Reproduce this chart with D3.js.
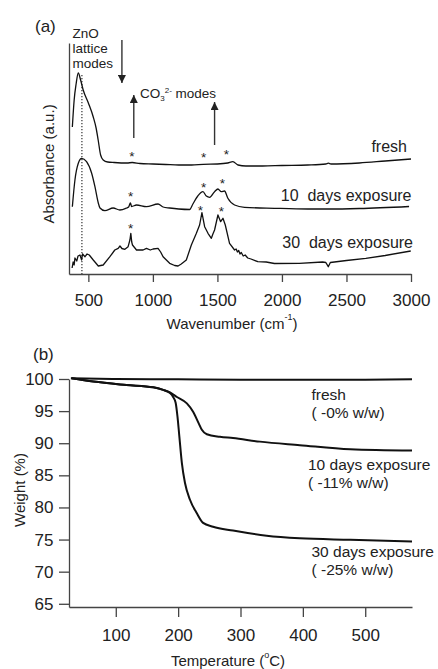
<!DOCTYPE html>
<html>
<head>
<meta charset="utf-8">
<script src="https://cdn.jsdelivr.net/npm/d3@7"></script>
<style>
  body { margin: 0; background: #fff; }
  svg text { font-family: "Liberation Sans", Arial, Helvetica, sans-serif; fill: #222; }
</style>
</head>
<body>
<svg id="chart" width="438" height="669"></svg>
<script>
// ---- (a) IR spectra: [wavenumber, absorbance (a.u., offset)] ----
const irFresh = [[376,1.47],[390,1.74],[405,1.90],[422,2.01],[440,1.94],[460,1.84],[500,1.71],[538,1.57],[560,1.46],[576,1.34],[595,1.19],[615,1.14],[650,1.12],[700,1.115],[800,1.11],[840,1.115],[900,1.105],[1000,1.10],[1100,1.095],[1200,1.09],[1300,1.09],[1390,1.097],[1500,1.10],[1580,1.11],[1620,1.123],[1660,1.09],[1720,1.08],[1850,1.08],[2000,1.085],[2200,1.09],[2340,1.10],[2360,1.108],[2380,1.10],[2600,1.11],[2800,1.13],[3000,1.15]];
const ir10days = [[376,0.673],[396,0.94],[422,1.107],[448,1.157],[486,1.123],[525,1.01],[551,0.873],[577,0.71],[590,0.66],[628,0.633],[692,0.66],[744,0.64],[796,0.66],[812,0.67],[826,0.71],[835,0.675],[873,0.69],[950,0.673],[1040,0.70],[1079,0.67],[1130,0.66],[1200,0.65],[1285,0.645],[1310,0.70],[1348,0.78],[1388,0.823],[1414,0.78],[1440,0.767],[1478,0.823],[1504,0.85],[1530,0.823],[1555,0.83],[1581,0.757],[1633,0.69],[1710,0.667],[1942,0.657],[2200,0.65],[2367,0.65],[2600,0.655],[2985,0.675]];
const ir30days = [[374,0.06],[382,0.12],[390,0.09],[396,0.16],[410,0.13],[420,0.18],[435,0.19],[448,0.14],[455,0.20],[474,0.173],[490,0.20],[507,0.19],[538,0.14],[577,0.08],[615,0.09],[667,0.173],[705,0.24],[731,0.257],[745,0.28],[760,0.255],[783,0.247],[808,0.273],[822,0.34],[829,0.407],[836,0.32],[842,0.29],[873,0.24],[924,0.24],[950,0.257],[980,0.24],[1001,0.25],[1040,0.257],[1060,0.22],[1079,0.173],[1130,0.107],[1169,0.085],[1195,0.08],[1220,0.10],[1259,0.14],[1298,0.29],[1337,0.407],[1362,0.49],[1380,0.613],[1401,0.473],[1427,0.407],[1453,0.357],[1465,0.40],[1478,0.44],[1504,0.59],[1525,0.523],[1543,0.557],[1561,0.49],[1594,0.307],[1633,0.24],[1645,0.25],[1655,0.22],[1665,0.235],[1675,0.20],[1685,0.215],[1700,0.18],[1715,0.19],[1735,0.16],[1760,0.15],[1813,0.123],[1878,0.12],[1942,0.105],[2135,0.107],[2315,0.12],[2340,0.115],[2359,0.073],[2375,0.115],[2500,0.135],[2650,0.157],[2800,0.185],[2998,0.23]];
const irTicks = [500, 1000, 1500, 2000, 2500, 3000];

// asterisks: [wavenumber, absorbance]
const starsFresh = [[838,1.21],[1393,1.20],[1569,1.23]];
const stars10days = [[827,0.81],[1393,0.90],[1538,0.94]];
const stars30days = [[827,0.49],[1368,0.67],[1530,0.66]];

// ---- (b) TGA: [temperature, weight %] ----
const tgaFresh = [[28,100.1],[100,100],[200,99.95],[300,99.9],[400,99.88],[500,99.9],[575,99.95]];
const tga10days = [[29,100.1],[64,99.6],[117,99.07],[160,98.7],[176,98.3],[187,97.9],[198,97.2],[214,96.2],[224,94.9],[233,93.1],[238,92.1],[246,91.4],[267,91.0],[288,90.8],[331,90.25],[395,89.7],[476,89.05],[575,88.85]];
const tga30days = [[29,100.1],[64,99.6],[117,99.07],[160,98.7],[176,98.3],[187,97.8],[192,97.2],[196,96.3],[199,94.1],[202,91.0],[206,86.9],[211,83.8],[219,81.2],[230,79.1],[240,77.6],[256,77.0],[288,76.4],[342,75.6],[395,75.2],[476,74.97],[575,74.7]];
const tgaXTicks = [100, 200, 300, 400, 500];
const tgaYTicks = [65, 70, 75, 80, 85, 90, 95, 100];

const svg = d3.select("#chart");
const axisColor = "#444";
const lineColor = "#111";

// ===================== panel (a) =====================
const xA = d3.scaleLinear().domain([350, 3000]).range([69, 411]);
const yA = d3.scaleLinear().domain([0, 2.31]).range([274, 43]);

const gA = svg.append("g");

gA.append("g")
    .attr("transform", "translate(0,274)")
    .call(d3.axisBottom(xA).tickValues(irTicks).tickFormat(d3.format("d"))
        .tickSize(8).tickSizeOuter(0).tickPadding(12))
    .call(g => g.selectAll("text").style("font-size", "17px"))
    .call(g => g.selectAll("path, line").attr("stroke", axisColor).attr("stroke-width", 1.3));

gA.append("g")
    .attr("transform", "translate(69,0)")
    .call(d3.axisLeft(yA).tickValues([]).tickSizeOuter(0))
    .call(g => g.selectAll("path").attr("stroke", axisColor).attr("stroke-width", 1.3));

// ZnO dotted line
gA.append("line")
    .attr("x1", xA(450)).attr("x2", xA(450))
    .attr("y1", 75).attr("y2", 274)
    .attr("stroke", "#333").attr("stroke-width", 1.2)
    .attr("stroke-dasharray", "1.3,1.7");

const lineSmooth = d3.line().x(d => xA(d[0])).y(d => yA(d[1])).curve(d3.curveMonotoneX);
const lineRaw = d3.line().x(d => xA(d[0])).y(d => yA(d[1]));

gA.append("path").datum(irFresh).attr("d", lineSmooth)
    .attr("fill", "none").attr("stroke", lineColor).attr("stroke-width", 1.3);
gA.append("path").datum(ir10days).attr("d", lineSmooth)
    .attr("fill", "none").attr("stroke", lineColor).attr("stroke-width", 1.3);
gA.append("path").datum(ir30days).attr("d", lineRaw)
    .attr("fill", "none").attr("stroke", lineColor).attr("stroke-width", 1.3)
    .attr("stroke-linejoin", "round");

// asterisks
[starsFresh, stars10days, stars30days].forEach(function (s) {
    gA.selectAll(null).data(s).join("text")
        .attr("x", d => xA(d[0]))
        .attr("y", d => yA(d[1]) + 7.5)
        .attr("text-anchor", "middle")
        .style("font-size", "13.5px")
        .text("*");
});

// arrows
svg.append("defs").append("marker")
    .attr("id", "head").attr("viewBox", "0 0 10 10")
    .attr("refX", 10).attr("refY", 5)
    .attr("markerWidth", 14).attr("markerHeight", 8)
    .attr("markerUnits", "userSpaceOnUse")
    .attr("orient", "auto")
    .append("path").attr("d", "M0,0 L10,5 L0,10 Z").attr("fill", "#222");

function arrow(wn, yFrom, yTo) {
    gA.append("line")
        .attr("x1", xA(wn)).attr("x2", xA(wn))
        .attr("y1", yFrom).attr("y2", yTo)
        .attr("stroke", "#333").attr("stroke-width", 1.4)
        .attr("marker-end", "url(#head)");
}
arrow(760, 40, 83);
arrow(852, 138, 95);
arrow(1478, 145, 102);

// ZnO label
const zno = gA.append("text").attr("x", 72.5).style("font-size", "13.5px");
zno.append("tspan").attr("x", 72.5).attr("y", 37.5).text("ZnO");
zno.append("tspan").attr("x", 72.5).attr("y", 52.5).text("lattice");
zno.append("tspan").attr("x", 72.5).attr("y", 67.5).text("modes");

// CO3 2- label
const co3 = gA.append("text").attr("x", 140).attr("y", 98).style("font-size", "13.5px");
co3.append("tspan").text("CO");
co3.append("tspan").attr("dy", 3).style("font-size", "8px").text("3");
co3.append("tspan").attr("dy", -8).style("font-size", "8px").text("2-");
co3.append("tspan").attr("dy", 5).text(" modes");

// series labels
gA.append("text").attr("x", 407).attr("y", 152).attr("text-anchor", "end")
    .style("font-size", "16px").text("fresh");
gA.append("text").attr("x", 411.5).attr("y", 201).attr("text-anchor", "end")
    .style("font-size", "16px").attr("xml:space", "preserve").text("10  days exposure");
gA.append("text").attr("x", 413).attr("y", 248).attr("text-anchor", "end")
    .style("font-size", "16px").attr("xml:space", "preserve").text("30  days exposure");

// titles
gA.append("text").attr("x", 35).attr("y", 32).style("font-size", "17px").text("(a)");
gA.append("text")
    .attr("transform", "translate(54,164) rotate(-90)")
    .attr("text-anchor", "middle")
    .style("font-size", "15px")
    .text("Absorbance (a.u.)");
const wnLab = gA.append("text").attr("x", 232).attr("y", 329)
    .attr("text-anchor", "middle").style("font-size", "15px");
wnLab.append("tspan").text("Wavenumber (cm");
wnLab.append("tspan").attr("dy", -9).style("font-size", "9px").text("-1");
wnLab.append("tspan").attr("dy", 9).text(")");

// ===================== panel (b) =====================
const xB = d3.scaleLinear().domain([25, 575]).range([69, 412]);
const yB = d3.scaleLinear().domain([64.5, 100]).range([607, 379]);

const gB = svg.append("g");

gB.append("g")
    .attr("transform", "translate(0,607)")
    .call(d3.axisBottom(xB).tickValues(tgaXTicks).tickSize(10).tickSizeOuter(0).tickPadding(11.5))
    .call(g => g.selectAll("text").style("font-size", "17px"))
    .call(g => g.selectAll("path, line").attr("stroke", axisColor).attr("stroke-width", 1.3));

gB.append("g")
    .attr("transform", "translate(69,0)")
    .call(d3.axisLeft(yB).tickValues(tgaYTicks).tickSize(10).tickSizeOuter(0).tickPadding(5.5))
    .call(g => g.selectAll("text").style("font-size", "17px"))
    .call(g => g.selectAll("path, line").attr("stroke", axisColor).attr("stroke-width", 1.3));

const lineB = d3.line().x(d => xB(d[0])).y(d => yB(d[1])).curve(d3.curveMonotoneX);
[tgaFresh, tga10days, tga30days].forEach(function (s) {
    gB.append("path").datum(s).attr("d", lineB)
        .attr("fill", "none").attr("stroke", lineColor).attr("stroke-width", 2);
});

function twoLine(x, y, a, b) {
    gB.append("text").attr("x", x).attr("y", y).style("font-size", "15.5px").text(a);
    gB.append("text").attr("x", x).attr("y", y + 17.5).style("font-size", "15.5px").text(b);
}
twoLine(311.5, 400, "fresh", "( -0% w/w)");
twoLine(308, 470, "10 days exposure", "( -11% w/w)");
twoLine(311.5, 557, "30 days exposure", "( -25% w/w)");

gB.append("text").attr("x", 33).attr("y", 360).style("font-size", "17px").text("(b)");
gB.append("text")
    .attr("transform", "translate(25,490) rotate(-90)")
    .attr("text-anchor", "middle")
    .style("font-size", "15px")
    .text("Weight (%)");
const tLab = gB.append("text").attr("x", 228).attr("y", 665.5)
    .attr("text-anchor", "middle").style("font-size", "15px");
tLab.append("tspan").text("Temperature (");
tLab.append("tspan").attr("dy", -8).style("font-size", "9px").text("o");
tLab.append("tspan").attr("dy", 8).text("C)");
</script>
</body>
</html>
